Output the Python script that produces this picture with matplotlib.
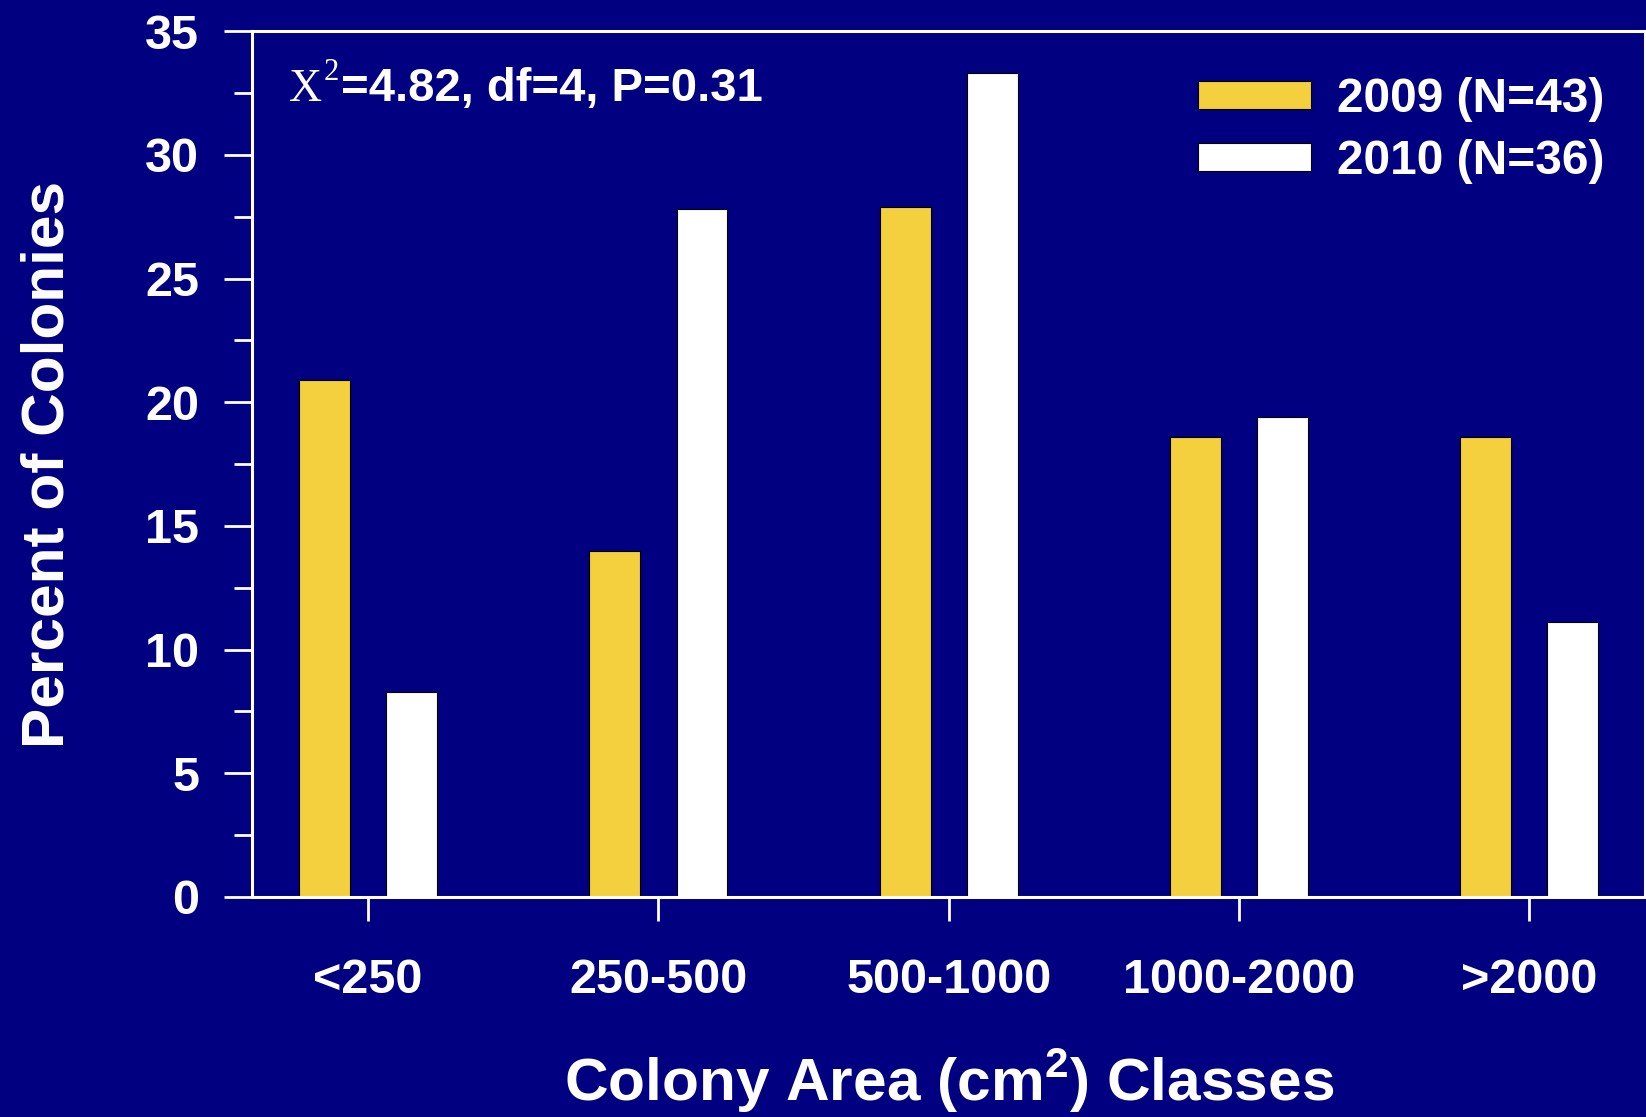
import matplotlib.pyplot as plt
from matplotlib.ticker import MultipleLocator
import numpy as np

categories = ['<250', '250-500', '500-1000', '1000-2000', '>2000']
pct_2009 = [20.9, 14.0, 27.9, 18.6, 18.6]
pct_2010 = [8.3, 27.8, 33.3, 19.4, 11.1]
labels = ['2009 (N=43)', '2010 (N=36)']

navy = '#000080'
gold = '#F5D03E'
plt.rcParams['font.family'] = ['Liberation Sans', 'DejaVu Sans']
plt.rcParams['font.weight'] = 'bold'
plt.rcParams['mathtext.fontset'] = 'custom'
plt.rcParams['mathtext.rm'] = 'Liberation Sans'
plt.rcParams['mathtext.bf'] = 'Liberation Sans:bold'

fig = plt.figure(figsize=(16.46, 11.17), dpi=100, facecolor=navy)
ax = fig.add_axes([0.1531, 0.197, 0.8465, 0.775])
ax.set_facecolor(navy)

x = np.arange(len(categories))
w = 0.175
ax.bar(x - 0.15, pct_2009, w, color=gold, edgecolor='black', linewidth=0.8, label=labels[0])
ax.bar(x + 0.15, pct_2010, w, color='white', edgecolor='black', linewidth=0.8, label=labels[1])

ax.set_xlim(-0.4, 4.4)
ax.set_ylim(0, 35)
ax.yaxis.set_major_locator(MultipleLocator(5))
ax.yaxis.set_minor_locator(MultipleLocator(2.5))
ax.set_xticks(x)
ax.set_xticklabels(categories)

for s in ax.spines.values():
    s.set_color('white')
    s.set_linewidth(2.2)

ax.tick_params(axis='y', which='major', direction='out', length=20, width=2, color='white',
               labelcolor='white', labelsize=35, pad=18)
ax.tick_params(axis='y', which='minor', direction='out', length=13, width=2, color='white')
ax.tick_params(axis='x', direction='out', length=17, width=2, color='white',
               labelcolor='white', labelsize=35, pad=27)

ax.set_ylabel('Percent of Colonies', color='white', fontsize=43.5, fontweight='bold', labelpad=50)
ax.set_xlabel(r'Colony Area (cm$^{\mathbf{2}}$) Classes', color='white', fontsize=43.5,
              fontweight='bold', labelpad=31)

# chi-square note: serif X with raised 2, then bold sans text
t1 = ax.text(0.0265, 0.92, 'X', transform=ax.transAxes, color='white', fontsize=33,
             family='Liberation Serif', fontweight='normal', va='baseline')
t2 = ax.annotate('2', xy=(1, 1), xycoords=t1, xytext=(1, -14), textcoords='offset points',
                 va='bottom', ha='left', color='white', fontsize=22,
                 family='Liberation Serif', fontweight='normal')
ax.annotate('=4.82, df=4, P=0.31', xy=(1, 0), xycoords=t1, xytext=(14, 0),
            textcoords='offset points', va='bottom', ha='left',
            color='white', fontsize=34, fontweight='bold')

leg = ax.legend(loc='upper right', bbox_to_anchor=(0.971, 0.947), frameon=False,
                fontsize=34.5, handlelength=2.35, handleheight=0.5, handletextpad=0.55,
                labelspacing=0.35, borderpad=0, borderaxespad=0)
for t in leg.get_texts():
    t.set_color('white')

fig.savefig('out.png', dpi=100, facecolor=navy)
